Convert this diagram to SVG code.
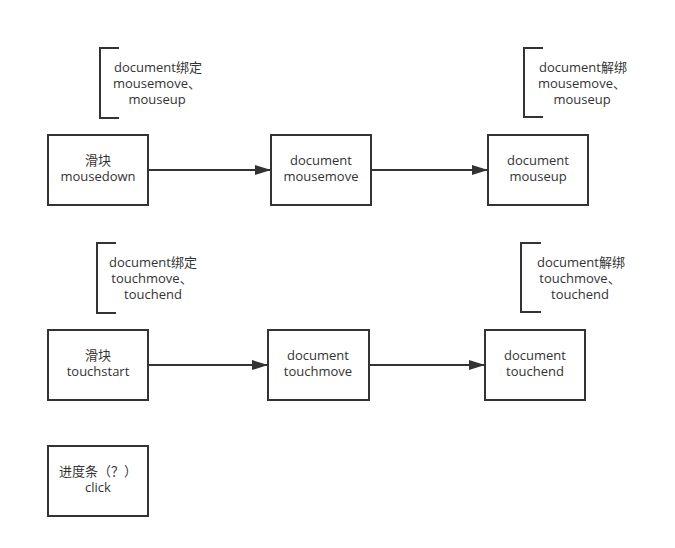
<svg xmlns="http://www.w3.org/2000/svg" width="675" height="548" viewBox="0 0 675 548">
<defs>
<marker id="arr" markerWidth="16" markerHeight="10" refX="16" refY="5" orient="auto" markerUnits="userSpaceOnUse">
<path d="M0,0 L16,5 L0,10 Z" fill="#333"/>
</marker>
<style>
.box{fill:#fff;stroke:#333;stroke-width:2}
.br{fill:none;stroke:#333;stroke-width:2}
.t{font-family:"Open Sans","Noto Sans CJK SC",sans-serif;font-size:13px;fill:#333;text-anchor:middle}
.c{stroke:#333;stroke-width:2;fill:none}
</style>
</defs>
<rect width="675" height="548" fill="#fff"/>
<g id="connectors">
<line class="c" x1="148" y1="170" x2="271" y2="170" marker-end="url(#arr)"/>
<line class="c" x1="371" y1="170" x2="488" y2="170" marker-end="url(#arr)"/>
<line class="c" x1="148" y1="365" x2="268" y2="365" marker-end="url(#arr)"/>
<line class="c" x1="369" y1="365" x2="485" y2="365" marker-end="url(#arr)"/>
</g>
<g id="note1">
<path class="br" d="M119,48 H100 V118 H119"/>
<text class="t"><tspan x="158" y="72">document绑定</tspan><tspan x="157" y="88">mousemove、</tspan><tspan x="157" y="104">mouseup</tspan></text>
</g>
<g id="note2">
<path class="br" d="M543,48 H524 V117 H543"/>
<text class="t"><tspan x="583" y="72">document解绑</tspan><tspan x="582" y="88">mousemove、</tspan><tspan x="582" y="104">mouseup</tspan></text>
</g>
<g id="n1">
<rect class="box" x="48" y="135" width="100" height="70"/>
<text class="t"><tspan x="98" y="165">滑块</tspan><tspan x="98" y="181">mousedown</tspan></text>
</g>
<g id="n2">
<rect class="box" x="271" y="135" width="100" height="70"/>
<text class="t"><tspan x="321" y="165">document</tspan><tspan x="321" y="181">mousemove</tspan></text>
</g>
<g id="n3">
<rect class="box" x="488" y="135" width="100" height="70"/>
<text class="t"><tspan x="538" y="165">document</tspan><tspan x="538" y="181">mouseup</tspan></text>
</g>
<g id="note3">
<path class="br" d="M116,243 H97 V313 H116"/>
<text class="t"><tspan x="153" y="267">document绑定</tspan><tspan x="152" y="283">touchmove、</tspan><tspan x="153" y="299">touchend</tspan></text>
</g>
<g id="note4">
<path class="br" d="M541,243 H521 V312 H541"/>
<text class="t"><tspan x="581" y="267">document解绑</tspan><tspan x="580" y="283">touchmove、</tspan><tspan x="580" y="299">touchend</tspan></text>
</g>
<g id="n4">
<rect class="box" x="48" y="330" width="100" height="70"/>
<text class="t"><tspan x="98" y="360">滑块</tspan><tspan x="98" y="376">touchstart</tspan></text>
</g>
<g id="n5">
<rect class="box" x="268" y="330" width="101" height="70"/>
<text class="t"><tspan x="318" y="360">document</tspan><tspan x="318" y="376">touchmove</tspan></text>
</g>
<g id="n6">
<rect class="box" x="485" y="330" width="100" height="70"/>
<text class="t"><tspan x="535" y="360">document</tspan><tspan x="535" y="376">touchend</tspan></text>
</g>
<g id="n7">
<rect class="box" x="48" y="446" width="100" height="70"/>
<text class="t"><tspan x="98" y="476">进度条（？）</tspan><tspan x="98" y="492">click</tspan></text>
</g>
</svg>
